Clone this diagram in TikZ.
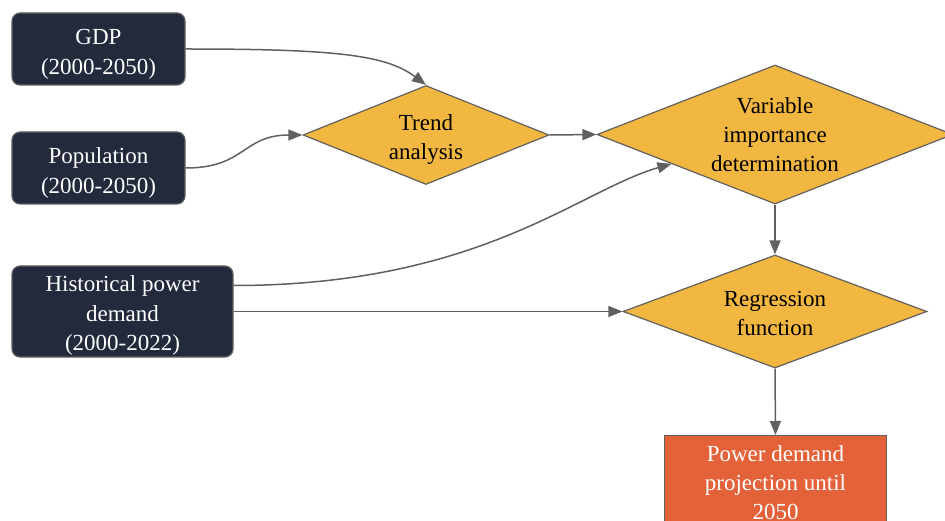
\documentclass[tikz,border=0pt]{standalone}
\usepackage{fontspec}
\setmainfont{Liberation Serif}
\usetikzlibrary{arrows.meta}
\usetikzlibrary{shapes.geometric}
\usetikzlibrary{calc}
\definecolor{navy}{RGB}{34,42,60}
\definecolor{amber}{RGB}{242,183,64}
\definecolor{rust}{RGB}{228,98,58}
\definecolor{edge}{RGB}{96,96,96}

\tikzset{
  databox/.style={draw=edge, fill=navy, text=white, rounded corners=8pt,
    align=center, line width=1.2pt, font=\fontsize{23}{29.5}\selectfont},
  stepdiamond/.style={diamond, aspect=2.5, draw=edge, fill=amber, inner sep=0pt,
    align=center, line width=1.2pt, font=\fontsize{23}{29}\selectfont},
  resultbox/.style={draw=edge, fill=rust, text=white,
    align=center, line width=1.2pt, font=\fontsize{23}{29}\selectfont},
  flow/.style={draw=edge, line width=1.5pt, -{Triangle[length=14pt,width=11pt]}}
}

\begin{document}
\begin{tikzpicture}[x=1pt, y=-1pt]
  \useasboundingbox (0,0) rectangle (945,521);
  \clip (0,0) rectangle (945,521);

  % inputs
  \node[databox, text height=55pt, minimum width=173pt, minimum height=72pt] (gdp) at (98.5,49) {GDP\\(2000-2050)};
  \node[databox, text height=55pt, minimum width=173pt, minimum height=72pt] (pop) at (98.5,168) {Population\\(2000-2050)};
  \node[databox, text height=83pt, inner ysep=0pt, minimum width=221pt, minimum height=91pt] (hist) at (122.5,311.5) {Historical power\\demand\\(2000-2022)};

  % steps
  \node[stepdiamond, text height=53pt, minimum width=246pt, minimum height=99pt] (trend) at (426,135) {Trend\\analysis};
  \node[stepdiamond, minimum width=356pt, minimum height=139pt] (var) at (775,134.5) {Variable\\importance\\determination};
  \node[stepdiamond, text height=49pt, minimum width=304pt, minimum height=113pt] (reg) at (775,311.5) {Regression\\function};

  % result
  \node[resultbox, minimum width=222pt, minimum height=94pt, anchor=north] (proj) at (775.5,435) {Power demand\\projection until\\2050};

  \draw[flow] (gdp.east) .. controls +(150,0) and +(-40,-30) .. (trend.north);
  \draw[flow] (pop.east) .. controls +(60,0) and +(-60,0) .. (trend.west);
  \draw[flow] (trend.east) -- (var.west);
  \draw[flow] ([yshift=26pt]hist.east) .. controls +(247,0) and +(-92,26) .. ($(var.west)!0.42!(var.south)$);
  \draw[flow] (hist.east) -- (reg.west);
  \draw[flow] (var.south) -- (reg.north);
  \draw[flow] (reg.south) -- (proj.north);
\end{tikzpicture}
\end{document}
